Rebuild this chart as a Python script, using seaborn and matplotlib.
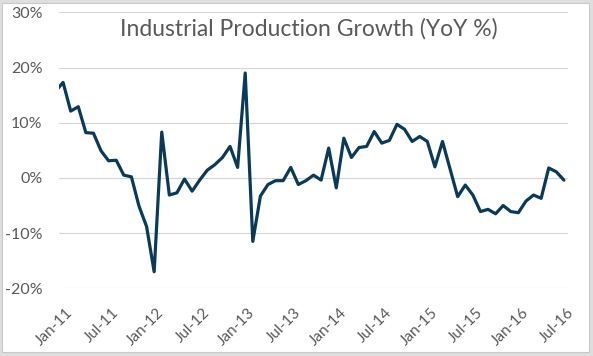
import matplotlib
matplotlib.use("Agg")
import matplotlib.pyplot as plt
import matplotlib.transforms as mtransforms
from matplotlib.patches import Rectangle
import seaborn as sns
import pandas as pd
import numpy as np

# ---- data (YoY %, monthly; first value is Dec-10, clipped at the left edge) ----
months = pd.date_range("2010-12-01", "2016-07-01", freq="MS")
growth = [
    15.7,
    17.3, 12.1, 12.9, 8.2, 8.1, 4.9, 3.1, 3.2, 0.5, 0.2, -5.1, -8.8,
    -17.0, 8.3, -3.1, -2.7, -0.2, -2.4, -0.4, 1.4, 2.4, 3.7, 5.7, 1.9,
    19.0, -11.5, -3.3, -1.2, -0.5, -0.5, 1.9, -1.2, -0.5, 0.5, -0.4, 5.4,
    -1.8, 7.2, 3.7, 5.5, 5.7, 8.4, 6.3, 6.8, 9.7, 8.8, 6.6, 7.5,
    6.6, 2.0, 6.6, 1.6, -3.4, -1.3, -3.1, -6.1, -5.7, -6.5, -5.0, -6.1,
    -6.3, -4.2, -3.1, -3.7, 1.8, 1.1, -0.4,
]
tick_labels = ["Jan-11", "Jul-11", "Jan-12", "Jul-12", "Jan-13", "Jul-13",
               "Jan-14", "Jul-14", "Jan-15", "Jul-15", "Jan-16", "Jul-16"]
y_ticks = [-20, -10, 0, 10, 20, 30]
title = "Industrial Production Growth (YoY %)"

# month index relative to Jan-11
idx = np.arange(len(months)) - 1
df = pd.DataFrame({"m": idx, "g": growth})

sns.set_theme(style="white")
plt.rcParams["font.family"] = ["Lato", "DejaVu Sans"]

W, H = 593, 356
fig = plt.figure(figsize=(W / 100, H / 100), dpi=100)
fig.patch.set_facecolor("#dedede")
fig.patches.append(Rectangle((2 / W, 4 / H), 587 / W, 349 / H, transform=fig.transFigure,
                             facecolor="white", edgecolor="#c9c9c9", lw=0.8, zorder=-1))

left, right = 59.3, 567.7
top, bottom = 12.3, 288.3
ax = fig.add_axes([left / W, 1 - bottom / H, (right - left) / W, (bottom - top) / H])
ax.set_facecolor("none")

sns.lineplot(data=df, x="m", y="g", ax=ax, color="#0a3a5a", lw=2.3, clip_on=True)

ax.set_xlim(-0.5, 66.5)
ax.set_ylim(-20, 30)
ax.set_yticks(y_ticks)
ax.set_yticklabels([f"{v}%" for v in y_ticks])
ax.set_xticks(np.arange(0, 67, 6))
ax.set_xticklabels(tick_labels)
ax.set_xlabel("")
ax.set_ylabel("")

for s in ax.spines.values():
    s.set_visible(False)
ax.grid(axis="y", color="#d4d4d4", lw=0.8)
ax.grid(axis="x", visible=False)

ax.tick_params(axis="y", length=0, pad=12, labelsize=11.5, labelcolor="#595959")
ax.tick_params(axis="x", length=0, pad=12.5, labelsize=11, labelcolor="#595959")

offset = mtransforms.ScaledTranslation(3 / 100, 0, fig.dpi_scale_trans)
for lab in ax.get_xticklabels():
    lab.set_rotation(45)
    lab.set_ha("right")
    lab.set_va("top")
    lab.set_rotation_mode("anchor")
    lab.set_transform(lab.get_transform() + offset)

fig.text(308.5 / W, 1 - 29 / H, title, ha="center", va="center",
         fontsize=16.5, color="#595959")

fig.savefig("out.png", dpi=100, facecolor=fig.get_facecolor())
